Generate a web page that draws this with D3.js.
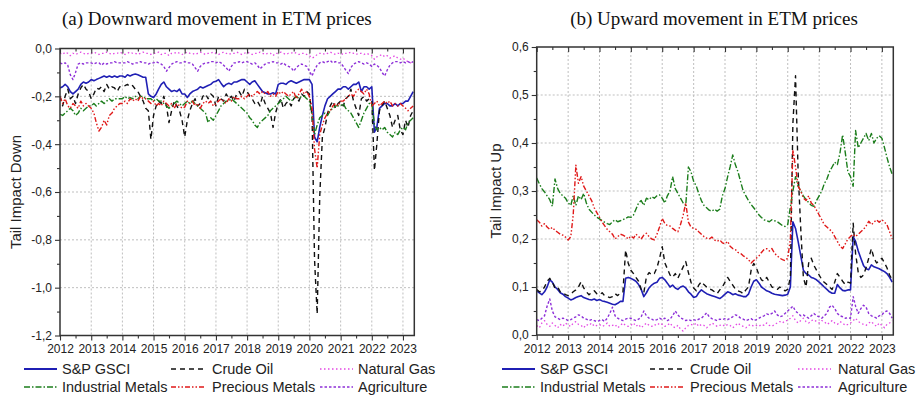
<!DOCTYPE html>
<html>
<head>
<meta charset="utf-8">
<script src="https://cdn.jsdelivr.net/npm/d3@7"></script>
<style>
  body { margin: 0; background: #fff; }
  text { font-family: "Liberation Sans", Arial, sans-serif; fill: #222; }
  .title { font-family: "Liberation Serif", "Times New Roman", serif; font-size: 19px; fill: #111; }
</style>
</head>
<body>
<svg id="chart" width="916" height="399"></svg>
<script>
// Monthly observations, Jan 2012 .. May 2023 (137 months)
const startMonth = new Date(2012, 0, 1);

const seriesNames = ["S&P GSCI", "Crude Oil", "Natural Gas", "Industrial Metals", "Precious Metals", "Agriculture"];
const yearTicks = [2012, 2013, 2014, 2015, 2016, 2017, 2018, 2019, 2020, 2021, 2022, 2023];
const downTicks = [0, -0.2, -0.4, -0.6, -0.8, -1.0, -1.2];
const upTicks = [0, 0.1, 0.2, 0.3, 0.4, 0.5, 0.6];

// ---- (a) Tail impact, downward movement ----
const spDown = [
  -0.165,-0.16,-0.15,-0.16,-0.18,-0.19,-0.18,-0.17,-0.15,-0.14,-0.145,-0.14,
  -0.13,-0.135,-0.13,-0.125,-0.12,-0.115,-0.12,-0.115,-0.12,-0.115,-0.12,-0.115,
  -0.115,-0.12,-0.11,-0.115,-0.11,-0.107,-0.11,-0.115,-0.12,-0.12,-0.19,-0.20,
  -0.205,-0.19,-0.17,-0.15,-0.14,-0.16,-0.17,-0.18,-0.175,-0.18,-0.17,-0.19,
  -0.19,-0.205,-0.19,-0.18,-0.175,-0.17,-0.16,-0.165,-0.16,-0.155,-0.15,-0.14,
  -0.137,-0.13,-0.145,-0.16,-0.15,-0.145,-0.15,-0.14,-0.14,-0.135,-0.13,-0.13,
  -0.14,-0.15,-0.14,-0.135,-0.15,-0.165,-0.18,-0.185,-0.19,-0.19,-0.185,-0.19,
  -0.15,-0.145,-0.145,-0.15,-0.14,-0.135,-0.14,-0.145,-0.14,-0.135,-0.13,-0.13,
  -0.13,-0.15,-0.37,-0.39,-0.33,-0.28,-0.24,-0.21,-0.20,-0.19,-0.18,-0.17,
  -0.17,-0.16,-0.16,-0.17,-0.16,-0.15,-0.15,-0.14,-0.18,-0.16,-0.16,-0.17,
  -0.16,-0.35,-0.33,-0.25,-0.24,-0.23,-0.23,-0.24,-0.24,-0.23,-0.24,-0.23,
  -0.23,-0.22,-0.22,-0.20,-0.18
];
const crudeDown = [
  -0.20,-0.24,-0.20,-0.17,-0.21,-0.20,-0.23,-0.19,-0.165,-0.15,-0.17,-0.18,
  -0.21,-0.19,-0.165,-0.17,-0.16,-0.18,-0.15,-0.17,-0.16,-0.165,-0.18,-0.16,
  -0.16,-0.155,-0.15,-0.16,-0.155,-0.17,-0.18,-0.20,-0.22,-0.25,-0.26,-0.38,
  -0.28,-0.24,-0.22,-0.23,-0.20,-0.24,-0.31,-0.26,-0.22,-0.24,-0.26,-0.30,
  -0.37,-0.30,-0.26,-0.23,-0.21,-0.24,-0.23,-0.20,-0.19,-0.21,-0.19,-0.20,
  -0.24,-0.20,-0.21,-0.22,-0.19,-0.21,-0.20,-0.22,-0.19,-0.18,-0.20,-0.17,
  -0.18,-0.20,-0.21,-0.23,-0.22,-0.24,-0.20,-0.23,-0.25,-0.27,-0.33,-0.27,
  -0.23,-0.21,-0.25,-0.23,-0.22,-0.24,-0.21,-0.20,-0.22,-0.19,-0.20,-0.18,
  -0.19,-0.28,-0.88,-1.11,-0.62,-0.37,-0.33,-0.27,-0.24,-0.22,-0.25,-0.23,
  -0.22,-0.24,-0.21,-0.20,-0.17,-0.22,-0.25,-0.28,-0.21,-0.20,-0.22,-0.21,
  -0.22,-0.51,-0.40,-0.26,-0.24,-0.22,-0.25,-0.28,-0.33,-0.30,-0.28,-0.34,
  -0.36,-0.30,-0.33,-0.28,-0.26
];
const gasDown = [
  -0.02,-0.025,-0.015,-0.02,-0.03,-0.02,-0.025,-0.02,-0.015,-0.02,-0.025,-0.02,
  -0.02,-0.015,-0.02,-0.025,-0.02,-0.02,-0.015,-0.02,-0.025,-0.02,-0.02,-0.015,
  -0.02,-0.025,-0.02,-0.015,-0.02,-0.02,-0.025,-0.02,-0.015,-0.02,-0.02,-0.025,
  -0.02,-0.02,-0.015,-0.025,-0.02,-0.02,-0.03,-0.02,-0.02,-0.015,-0.02,-0.025,
  -0.02,-0.015,-0.02,-0.02,-0.025,-0.02,-0.015,-0.02,-0.025,-0.02,-0.02,-0.015,
  -0.02,-0.025,-0.02,-0.015,-0.02,-0.025,-0.02,-0.02,-0.015,-0.02,-0.025,-0.02,
  -0.015,-0.02,-0.025,-0.02,-0.02,-0.015,-0.02,-0.025,-0.02,-0.02,-0.03,-0.02,
  -0.02,-0.015,-0.02,-0.025,-0.02,-0.02,-0.015,-0.02,-0.025,-0.02,-0.02,-0.025,
  -0.03,-0.04,-0.035,-0.025,-0.02,-0.02,-0.025,-0.02,-0.015,-0.02,-0.025,-0.02,
  -0.02,-0.025,-0.02,-0.02,-0.015,-0.02,-0.025,-0.02,-0.02,-0.025,-0.02,-0.025,
  -0.03,-0.045,-0.035,-0.03,-0.025,-0.035,-0.03,-0.04,-0.035,-0.03,-0.04,-0.045,
  -0.04,-0.05,-0.055,-0.06,-0.05
];
const industrialDown = [
  -0.275,-0.28,-0.27,-0.26,-0.25,-0.26,-0.28,-0.27,-0.25,-0.26,-0.25,-0.24,
  -0.24,-0.23,-0.24,-0.23,-0.22,-0.23,-0.22,-0.21,-0.22,-0.21,-0.21,-0.21,
  -0.21,-0.20,-0.21,-0.205,-0.21,-0.20,-0.21,-0.20,-0.20,-0.21,-0.21,-0.21,
  -0.22,-0.21,-0.22,-0.22,-0.23,-0.24,-0.25,-0.24,-0.23,-0.22,-0.23,-0.24,
  -0.23,-0.22,-0.23,-0.22,-0.23,-0.24,-0.25,-0.26,-0.27,-0.31,-0.29,-0.30,
  -0.28,-0.26,-0.24,-0.23,-0.22,-0.22,-0.21,-0.22,-0.23,-0.24,-0.25,-0.26,
  -0.27,-0.29,-0.30,-0.32,-0.33,-0.31,-0.30,-0.29,-0.28,-0.26,-0.25,-0.24,
  -0.23,-0.22,-0.21,-0.20,-0.21,-0.22,-0.21,-0.20,-0.21,-0.20,-0.20,-0.21,
  -0.22,-0.28,-0.36,-0.32,-0.29,-0.28,-0.27,-0.28,-0.26,-0.25,-0.24,-0.24,
  -0.24,-0.23,-0.25,-0.26,-0.27,-0.29,-0.31,-0.33,-0.30,-0.27,-0.25,-0.23,
  -0.23,-0.32,-0.34,-0.33,-0.34,-0.33,-0.35,-0.36,-0.37,-0.35,-0.36,-0.34,
  -0.33,-0.34,-0.31,-0.30,-0.29
];
const preciousDown = [
  -0.20,-0.23,-0.21,-0.24,-0.25,-0.23,-0.24,-0.25,-0.22,-0.24,-0.23,-0.24,
  -0.25,-0.27,-0.31,-0.345,-0.33,-0.30,-0.32,-0.28,-0.27,-0.25,-0.24,-0.23,
  -0.23,-0.22,-0.23,-0.21,-0.22,-0.21,-0.22,-0.20,-0.21,-0.21,-0.22,-0.23,
  -0.22,-0.24,-0.23,-0.24,-0.22,-0.23,-0.24,-0.23,-0.25,-0.23,-0.24,-0.25,
  -0.245,-0.22,-0.23,-0.22,-0.24,-0.23,-0.25,-0.23,-0.22,-0.23,-0.22,-0.24,
  -0.23,-0.22,-0.21,-0.22,-0.23,-0.21,-0.22,-0.20,-0.21,-0.21,-0.20,-0.21,
  -0.20,-0.19,-0.20,-0.19,-0.18,-0.19,-0.18,-0.19,-0.18,-0.20,-0.19,-0.20,
  -0.18,-0.19,-0.18,-0.19,-0.20,-0.19,-0.18,-0.21,-0.19,-0.17,-0.19,-0.18,
  -0.20,-0.25,-0.42,-0.50,-0.36,-0.32,-0.29,-0.27,-0.26,-0.24,-0.23,-0.24,
  -0.22,-0.22,-0.21,-0.20,-0.19,-0.20,-0.18,-0.17,-0.18,-0.19,-0.17,-0.19,
  -0.24,-0.23,-0.22,-0.24,-0.23,-0.22,-0.23,-0.22,-0.24,-0.23,-0.24,-0.23,
  -0.24,-0.25,-0.26,-0.25,-0.24
];
const agriDown = [
  -0.06,-0.065,-0.06,-0.07,-0.11,-0.13,-0.10,-0.065,-0.06,-0.065,-0.06,-0.06,
  -0.06,-0.065,-0.06,-0.06,-0.07,-0.06,-0.065,-0.06,-0.06,-0.055,-0.06,-0.06,
  -0.06,-0.06,-0.055,-0.06,-0.065,-0.06,-0.06,-0.055,-0.06,-0.06,-0.065,-0.06,
  -0.06,-0.055,-0.06,-0.065,-0.075,-0.095,-0.08,-0.065,-0.06,-0.055,-0.06,-0.06,
  -0.055,-0.06,-0.06,-0.065,-0.08,-0.095,-0.075,-0.065,-0.06,-0.06,-0.055,-0.055,
  -0.06,-0.055,-0.06,-0.07,-0.08,-0.095,-0.075,-0.06,-0.06,-0.055,-0.06,-0.055,
  -0.055,-0.06,-0.065,-0.06,-0.07,-0.085,-0.075,-0.065,-0.06,-0.06,-0.055,-0.06,
  -0.06,-0.065,-0.06,-0.07,-0.075,-0.08,-0.095,-0.08,-0.07,-0.065,-0.07,-0.075,
  -0.095,-0.115,-0.09,-0.07,-0.06,-0.055,-0.06,-0.055,-0.05,-0.06,-0.055,-0.06,
  -0.06,-0.075,-0.09,-0.105,-0.08,-0.065,-0.06,-0.055,-0.06,-0.065,-0.06,-0.065,
  -0.075,-0.065,-0.07,-0.08,-0.10,-0.115,-0.09,-0.07,-0.06,-0.055,-0.055,-0.06,
  -0.055,-0.06,-0.055,-0.06,-0.055
];

// ---- (b) Tail impact, upward movement ----
const spUp = [
  0.092,0.088,0.084,0.090,0.100,0.115,0.110,0.100,0.095,0.088,0.085,0.080,
  0.077,0.073,0.075,0.078,0.080,0.082,0.078,0.076,0.074,0.073,0.075,0.072,
  0.074,0.071,0.070,0.068,0.066,0.064,0.063,0.066,0.070,0.070,0.118,0.120,
  0.118,0.115,0.112,0.105,0.095,0.080,0.088,0.098,0.104,0.108,0.110,0.118,
  0.120,0.115,0.108,0.100,0.104,0.098,0.095,0.100,0.102,0.098,0.090,0.085,
  0.078,0.080,0.088,0.094,0.090,0.086,0.084,0.082,0.080,0.078,0.076,0.080,
  0.085,0.090,0.088,0.084,0.086,0.083,0.082,0.080,0.080,0.085,0.100,0.112,
  0.115,0.108,0.100,0.096,0.092,0.090,0.087,0.085,0.084,0.083,0.082,0.083,
  0.085,0.100,0.236,0.222,0.195,0.165,0.135,0.128,0.125,0.120,0.118,0.115,
  0.110,0.105,0.100,0.095,0.090,0.087,0.087,0.105,0.098,0.093,0.092,0.094,
  0.094,0.205,0.195,0.175,0.160,0.145,0.138,0.136,0.146,0.142,0.140,0.138,
  0.135,0.132,0.128,0.120,0.110
];
const crudeUp = [
  0.095,0.090,0.092,0.100,0.112,0.118,0.110,0.098,0.100,0.090,0.088,0.084,
  0.082,0.085,0.090,0.094,0.100,0.111,0.098,0.090,0.084,0.088,0.092,0.086,
  0.084,0.088,0.082,0.080,0.078,0.080,0.086,0.082,0.088,0.090,0.177,0.150,
  0.135,0.128,0.120,0.112,0.095,0.088,0.121,0.130,0.125,0.128,0.140,0.160,
  0.184,0.150,0.138,0.125,0.120,0.128,0.118,0.130,0.142,0.153,0.130,0.110,
  0.098,0.092,0.104,0.111,0.105,0.100,0.096,0.094,0.090,0.086,0.094,0.100,
  0.110,0.120,0.112,0.104,0.096,0.092,0.090,0.086,0.094,0.100,0.135,0.149,
  0.140,0.125,0.115,0.112,0.120,0.110,0.100,0.098,0.095,0.100,0.096,0.092,
  0.095,0.120,0.440,0.540,0.340,0.220,0.120,0.100,0.150,0.160,0.145,0.135,
  0.125,0.115,0.110,0.105,0.100,0.095,0.110,0.128,0.120,0.112,0.105,0.110,
  0.108,0.233,0.170,0.130,0.120,0.125,0.140,0.160,0.180,0.160,0.150,0.155,
  0.160,0.150,0.140,0.125,0.115
];
const gasUp = [
  0.020,0.015,0.025,0.030,0.022,0.018,0.025,0.020,0.015,0.022,0.018,0.025,
  0.020,0.018,0.025,0.028,0.022,0.020,0.015,0.022,0.020,0.025,0.018,0.020,
  0.022,0.018,0.020,0.025,0.018,0.020,0.022,0.015,0.020,0.025,0.020,0.018,
  0.020,0.025,0.018,0.022,0.015,0.020,0.025,0.020,0.018,0.022,0.020,0.025,
  0.022,0.018,0.020,0.025,0.018,0.015,0.020,0.012,0.008,0.015,0.020,0.022,
  0.020,0.025,0.018,0.022,0.020,0.015,0.020,0.025,0.022,0.018,0.020,0.022,
  0.018,0.022,0.020,0.015,0.020,0.025,0.020,0.018,0.015,0.020,0.022,0.018,
  0.020,0.018,0.022,0.020,0.025,0.020,0.018,0.022,0.025,0.028,0.025,0.030,
  0.030,0.035,0.040,0.030,0.025,0.030,0.035,0.028,0.025,0.030,0.032,0.028,
  0.025,0.030,0.028,0.022,0.025,0.030,0.025,0.022,0.028,0.025,0.020,0.022,
  0.025,0.030,0.035,0.028,0.025,0.022,0.020,0.025,0.028,0.022,0.018,0.025,
  0.020,0.015,0.022,0.025,0.030
];
const industrialUp = [
  0.327,0.315,0.305,0.298,0.290,0.282,0.268,0.325,0.305,0.295,0.290,0.285,
  0.275,0.270,0.290,0.270,0.290,0.282,0.295,0.275,0.262,0.256,0.250,0.245,
  0.242,0.238,0.235,0.232,0.230,0.236,0.240,0.236,0.238,0.240,0.243,0.246,
  0.245,0.250,0.262,0.275,0.280,0.270,0.285,0.282,0.288,0.285,0.290,0.292,
  0.285,0.275,0.290,0.300,0.330,0.305,0.295,0.285,0.275,0.270,0.350,0.340,
  0.320,0.310,0.295,0.280,0.270,0.265,0.260,0.258,0.262,0.258,0.262,0.290,
  0.305,0.330,0.350,0.375,0.355,0.340,0.320,0.300,0.290,0.280,0.272,0.265,
  0.258,0.250,0.245,0.240,0.238,0.236,0.240,0.238,0.236,0.232,0.228,0.226,
  0.230,0.267,0.300,0.330,0.310,0.300,0.290,0.282,0.276,0.270,0.268,0.280,
  0.290,0.300,0.315,0.325,0.340,0.350,0.360,0.355,0.380,0.417,0.380,0.340,
  0.330,0.310,0.426,0.390,0.400,0.410,0.420,0.405,0.420,0.400,0.410,0.415,
  0.410,0.390,0.370,0.350,0.335
];
const preciousUp = [
  0.240,0.235,0.227,0.232,0.225,0.220,0.224,0.218,0.214,0.210,0.208,0.204,
  0.198,0.205,0.250,0.354,0.316,0.330,0.310,0.300,0.290,0.280,0.265,0.255,
  0.245,0.235,0.228,0.220,0.215,0.210,0.200,0.205,0.210,0.208,0.205,0.200,
  0.206,0.202,0.210,0.205,0.200,0.208,0.212,0.205,0.200,0.198,0.210,0.225,
  0.243,0.232,0.228,0.227,0.222,0.218,0.215,0.230,0.250,0.275,0.235,0.225,
  0.222,0.220,0.215,0.210,0.205,0.202,0.200,0.204,0.198,0.195,0.198,0.192,
  0.190,0.195,0.185,0.180,0.178,0.172,0.170,0.165,0.162,0.157,0.150,0.155,
  0.160,0.165,0.172,0.178,0.180,0.175,0.180,0.170,0.165,0.160,0.157,0.155,
  0.160,0.200,0.386,0.350,0.310,0.300,0.285,0.280,0.290,0.275,0.270,0.260,
  0.250,0.240,0.230,0.225,0.220,0.215,0.205,0.195,0.185,0.180,0.190,0.200,
  0.205,0.210,0.205,0.210,0.215,0.220,0.227,0.237,0.230,0.235,0.240,0.235,
  0.240,0.235,0.230,0.215,0.200
];
const agriUp = [
  0.032,0.030,0.035,0.040,0.060,0.075,0.050,0.038,0.035,0.032,0.035,0.033,
  0.030,0.032,0.035,0.038,0.042,0.040,0.035,0.033,0.030,0.032,0.030,0.028,
  0.030,0.032,0.028,0.035,0.045,0.058,0.040,0.035,0.032,0.030,0.033,0.035,
  0.035,0.032,0.030,0.033,0.038,0.050,0.040,0.035,0.033,0.030,0.032,0.035,
  0.032,0.035,0.030,0.033,0.040,0.050,0.042,0.036,0.033,0.030,0.032,0.030,
  0.032,0.030,0.033,0.035,0.040,0.046,0.038,0.034,0.032,0.030,0.033,0.032,
  0.034,0.032,0.035,0.038,0.042,0.040,0.035,0.033,0.030,0.032,0.034,0.030,
  0.032,0.035,0.038,0.040,0.044,0.042,0.045,0.050,0.042,0.038,0.040,0.045,
  0.050,0.055,0.060,0.050,0.045,0.040,0.042,0.038,0.035,0.040,0.045,0.040,
  0.038,0.035,0.040,0.045,0.058,0.062,0.055,0.045,0.040,0.038,0.035,0.036,
  0.035,0.080,0.060,0.045,0.055,0.062,0.058,0.045,0.040,0.038,0.035,0.040,
  0.042,0.048,0.050,0.045,0.035
];

// Line styles, one per series (same order as seriesNames)
const styles = [
  { color: "#1f1fb4", dash: null,               width: 1.6 },
  { color: "#111111", dash: "5,4",              width: 1.4 },
  { color: "#e448e4", dash: "1.5,2.5",          width: 1.3 },
  { color: "#1b7d1b", dash: "6,2,1.5,2",        width: 1.4 },
  { color: "#e01818", dash: "5,2,1.5,2,1.5,2",  width: 1.4 },
  { color: "#8d2fd8", dash: "2.5,2",            width: 1.4 }
];

const dates = spDown.map((_, i) => d3.timeMonth.offset(startMonth, i));
const endDate = new Date(2023, 4, 14);
const commaFmt = v => d3.format(".1f")(v).replace(".", ",").replace("−", "-");

const svg = d3.select("#chart");
svg.append("rect").attr("width", 916).attr("height", 399).attr("fill", "#fff");

function drawPanel(cfg) {
  const x = d3.scaleTime().domain([startMonth, endDate]).range([cfg.left, cfg.right]);
  const y = d3.scaleLinear().domain(cfg.yDomain).range([cfg.bottom, cfg.top]);
  const g = svg.append("g");

  const clipId = "clip-" + cfg.id;
  svg.append("clipPath").attr("id", clipId).append("rect")
    .attr("x", cfg.left).attr("y", cfg.top)
    .attr("width", cfg.right - cfg.left).attr("height", cfg.bottom - cfg.top);

  // dotted grid at major ticks
  const yearDates = yearTicks.map(yr => new Date(yr, 0, 1));
  g.append("g").selectAll("line").data(yearDates.slice(1)).join("line")
    .attr("x1", d => x(d)).attr("x2", d => x(d))
    .attr("y1", cfg.top).attr("y2", cfg.bottom)
    .attr("stroke", "#b8b8b8").attr("stroke-width", 0.9).attr("stroke-dasharray", "2,2");
  g.append("g").selectAll("line").data(cfg.ticks.slice(1, -1)).join("line")
    .attr("x1", cfg.left).attr("x2", cfg.right)
    .attr("y1", d => y(d)).attr("y2", d => y(d))
    .attr("stroke", "#b8b8b8").attr("stroke-width", 0.9).attr("stroke-dasharray", "2,2");

  // series
  const line = d3.line().x((d, i) => x(dates[i])).y(d => y(d));
  const lines = g.append("g").attr("clip-path", `url(#${clipId})`);
  cfg.series.forEach((vals, k) => {
    const s = styles[k];
    lines.append("path").datum(vals)
      .attr("d", line)
      .attr("fill", "none")
      .attr("stroke", s.color)
      .attr("stroke-width", s.width)
      .attr("stroke-dasharray", s.dash)
      .attr("stroke-linejoin", "round");
  });

  // axes
  const minorY = d3.range(cfg.ticks.length - 1).map(i => (cfg.ticks[i] + cfg.ticks[i + 1]) / 2);
  const minorX = yearTicks.map(yr => new Date(yr, 6, 1)).filter(d => d <= endDate);

  const styleAxis = sel => {
    sel.select(".domain").remove();
    sel.selectAll("line").attr("stroke", "#333").attr("stroke-width", 1.1);
    sel.selectAll("text").attr("font-family", "Liberation Sans, Arial, sans-serif").attr("font-size", 12).attr("fill", "#222");
  };

  g.append("g").attr("transform", `translate(${cfg.left},0)`)
    .call(d3.axisLeft(y).tickValues(cfg.ticks).tickSize(5).tickPadding(3).tickFormat(commaFmt))
    .call(styleAxis);
  g.append("g").attr("transform", `translate(${cfg.left},0)`)
    .call(d3.axisLeft(y).tickValues(minorY).tickSize(3).tickFormat(""))
    .call(styleAxis);

  g.append("g").attr("transform", `translate(0,${cfg.bottom})`)
    .call(d3.axisBottom(x).tickValues(yearDates).tickSize(5).tickPadding(4).tickFormat(d3.timeFormat("%Y")))
    .call(styleAxis);
  g.append("g").attr("transform", `translate(0,${cfg.bottom})`)
    .call(d3.axisBottom(x).tickValues(minorX).tickSize(3).tickFormat(""))
    .call(styleAxis);

  // top axis: inward ticks only
  g.append("g").attr("transform", `translate(0,${cfg.top})`)
    .call(d3.axisBottom(x).tickValues(yearDates).tickSize(5).tickFormat(""))
    .call(styleAxis);
  g.append("g").attr("transform", `translate(0,${cfg.top})`)
    .call(d3.axisBottom(x).tickValues(minorX).tickSize(3).tickFormat(""))
    .call(styleAxis);

  // frame
  g.append("rect")
    .attr("x", cfg.left).attr("y", cfg.top)
    .attr("width", cfg.right - cfg.left).attr("height", cfg.bottom - cfg.top)
    .attr("fill", "none").attr("stroke", "#333").attr("stroke-width", 1.5);

  // title and y label
  svg.append("text").attr("class", "title")
    .attr("x", cfg.titleX).attr("y", 25)
    .attr("text-anchor", cfg.titleAnchor)
    .text(cfg.title);
  svg.append("text")
    .attr("transform", `translate(${cfg.labelX},${(cfg.top + cfg.bottom) / 2}) rotate(-90)`)
    .attr("text-anchor", "middle")
    .attr("font-size", 15)
    .text(cfg.yLabel);

  // legend: two rows of three
  const leg = svg.append("g");
  seriesNames.forEach((name, k) => {
    const col = k % 3, row = Math.floor(k / 3);
    const ly = 369 + row * 18;
    const s = styles[k];
    leg.append("line")
      .attr("x1", cfg.legendLineX[col]).attr("x2", cfg.legendLineX[col] + 33)
      .attr("y1", ly).attr("y2", ly)
      .attr("stroke", s.color).attr("stroke-width", s.width + 0.2)
      .attr("stroke-dasharray", s.dash);
    leg.append("text")
      .attr("x", cfg.legendTextX[col]).attr("y", ly + 5)
      .attr("font-size", 14.5)
      .text(name);
  });
}

drawPanel({
  id: "down", left: 60, right: 414.3, top: 48.5, bottom: 335.5,
  yDomain: [-1.2, 0], ticks: downTicks,
  series: [spDown, crudeDown, gasDown, industrialDown, preciousDown, agriDown],
  title: "(a) Downward movement in ETM prices", titleX: 62, titleAnchor: "start",
  yLabel: "Tail Impact Down", labelX: 21,
  legendLineX: [24, 171, 320], legendTextX: [62, 212, 358]
});

drawPanel({
  id: "up", left: 536.7, right: 893.3, top: 47, bottom: 335,
  yDomain: [0, 0.6], ticks: upTicks,
  series: [spUp, crudeUp, gasUp, industrialUp, preciousUp, agriUp],
  title: "(b) Upward movement in ETM prices", titleX: 714, titleAnchor: "middle",
  yLabel: "Tail Impact Up", labelX: 501,
  legendLineX: [502, 650, 798], legendTextX: [540, 690, 838]
});
</script>
</body>
</html>
